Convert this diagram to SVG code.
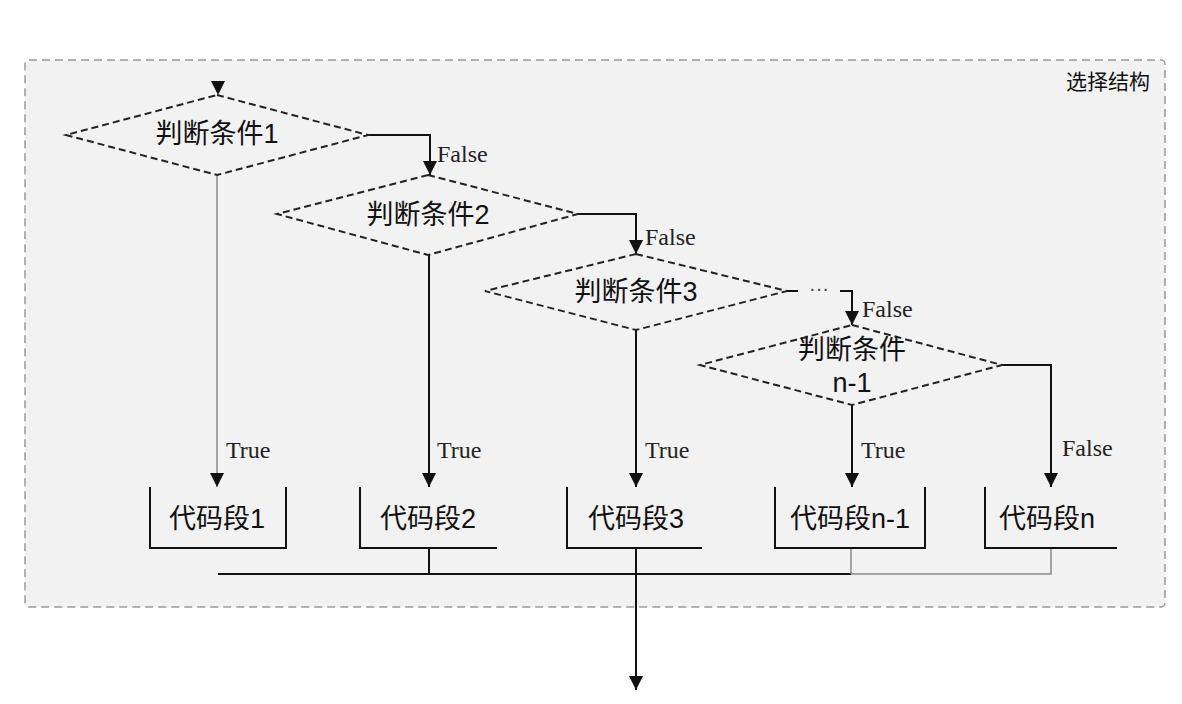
<svg xmlns="http://www.w3.org/2000/svg" width="1182" height="704" viewBox="0 0 1182 704">
<style>
.cn{font-family:"Liberation Sans","Noto Sans CJK SC",sans-serif;font-size:27px;fill:#111;text-anchor:middle}
.lbl{font-family:"Liberation Serif",serif;font-size:24px;fill:#222}
.dia{fill:none;stroke:#222;stroke-width:2;stroke-dasharray:7,4}
.ln{fill:none;stroke:#111;stroke-width:2}
.lg{fill:none;stroke:#888;stroke-width:1.5}
.box{fill:none;stroke:#111;stroke-width:2}
</style>
<defs>
<marker id="ahr" viewBox="0 0 14 14" refX="14" refY="7" markerWidth="15" markerHeight="14" markerUnits="userSpaceOnUse" orient="auto">
<path d="M0,0 L14,7 L0,14 Z" fill="#111"/>
</marker>
</defs>
<rect id="container" x="25" y="60" width="1140" height="547" rx="4" fill="#f2f2f2" stroke="#999" stroke-width="1.5" stroke-dasharray="8,5"/>
<text x="1150" y="89" font-family="'Noto Sans CJK SC',sans-serif" font-size="21" fill="#111" text-anchor="end">选择结构</text>

<g id="connectors">
<polygon points="211,81 225,81 218,95" fill="#111"/>
<path class="ln" d="M368,135 H430 V175" marker-end="url(#ahr)"/>
<path class="ln" d="M578,214 H636 V254" marker-end="url(#ahr)"/>
<path class="ln" d="M787,291 H798"/>
<path class="ln" d="M840,291 H852 V325" marker-end="url(#ahr)"/>
<path class="ln" d="M1002,365 H1051 V487" marker-end="url(#ahr)"/>
<path class="lg" d="M217,175 V487" marker-end="url(#ahr)"/>
<path class="ln" d="M429,255 V487" marker-end="url(#ahr)"/>
<path class="ln" d="M636,330 V487" marker-end="url(#ahr)"/>
<path class="ln" d="M852,405 V487" marker-end="url(#ahr)"/>
<path class="ln" d="M218,574 H851"/>
<path class="lg" d="M851,574 H1051 V548"/>
<path class="lg" d="M851,548 V574"/>
<path class="ln" d="M429,548 V574"/>
<path class="ln" d="M636,548 V690" marker-end="url(#ahr)"/>
<text class="lbl" x="437" y="162">False</text>
<text class="lbl" x="645" y="245">False</text>
<text class="lbl" x="862" y="317">False</text>
<text class="lbl" x="1062" y="456">False</text>
<text class="lbl" x="226" y="458" fill="#444">True</text>
<text class="lbl" x="437" y="458" fill="#444">True</text>
<text class="lbl" x="645" y="458" fill="#444">True</text>
<text class="lbl" x="861" y="458" fill="#444">True</text>
<text x="819" y="295" font-family="'Liberation Sans',sans-serif" font-size="20" fill="#444" text-anchor="middle">···</text>
</g>

<g id="cond1">
<polygon class="dia" points="217,95 368,135 217,175 66,135"/>
<text class="cn" x="217" y="143">判断条件1</text>
</g>
<g id="cond2">
<polygon class="dia" points="428,175 578,214 428,255 277,214"/>
<text class="cn" x="428" y="224">判断条件2</text>
</g>
<g id="cond3">
<polygon class="dia" points="636,254 787,291 636,330 485,291"/>
<text class="cn" x="636" y="301">判断条件3</text>
</g>
<g id="condn1">
<polygon class="dia" points="852,325 1002,365 852,405 700,365"/>
<text class="cn" x="852" y="359">判断条件</text>
<text class="cn" x="852" y="392">n-1</text>
</g>

<g id="code1">
<path class="box" d="M150,487 V548 H286 V487"/>
<text class="cn" x="217" y="528">代码段1</text>
</g>
<g id="code2">
<path class="box" d="M360,487 V548 H497"/>
<text class="cn" x="428" y="528">代码段2</text>
</g>
<g id="code3">
<path class="box" d="M567,487 V548 H702"/>
<text class="cn" x="636" y="528">代码段3</text>
</g>
<g id="coden1">
<path class="box" d="M775,487 V548 H925 V487"/>
<text class="cn" x="850" y="528">代码段n-1</text>
</g>
<g id="coden">
<path class="box" d="M985,487 V548 H1117"/>
<text class="cn" x="1047" y="528">代码段n</text>
</g>
</svg>
